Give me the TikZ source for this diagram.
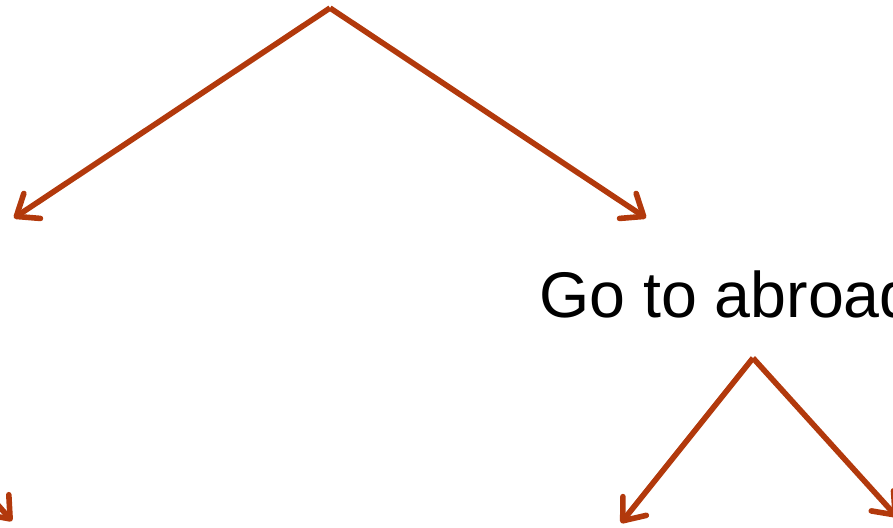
\documentclass[tikz,border=0pt]{standalone}
\usepackage{fontspec}
\setmainfont{Liberation Sans}
\usetikzlibrary{arrows.meta}
\definecolor{treerust}{HTML}{B2390C}
\tikzset{%
  treearrow/.style={%
    -{Straight Barb[length=19pt,width=30pt,round]},
    line width=5.6pt,
    draw=treerust
  },
  treelabel/.style={%
    inner sep=0pt,
    anchor=base west,
    font=\fontsize{64.5}{78}\selectfont
  }
}
\begin{document}
\begin{tikzpicture}[x=1pt,y=-1pt]
    \useasboundingbox (0,0) rectangle (893,527);
    \coordinate (root) at (330,8);
    \coordinate (stay) at (14,218);
    \coordinate (stayfork) at (-132,358);
    \coordinate (stayright) at (12,521);
    \coordinate (abroadtop) at (646,218);
    \node[treelabel] (abroad) at (539,317) {Go to abroad};
    \coordinate (abroadfork) at (753,358);
    \coordinate (abroadleft) at (621,523);
    \coordinate (abroadright) at (897,517);

    \draw[treearrow] (root) -- (stay);
    \draw[treearrow] (root) -- (abroadtop);
    \draw[treearrow] (stayfork) -- (stayright);
    \draw[treearrow] (abroadfork) -- (abroadleft);
    \draw[treearrow] (abroadfork) -- (abroadright);
  \end{tikzpicture}
\end{document}
